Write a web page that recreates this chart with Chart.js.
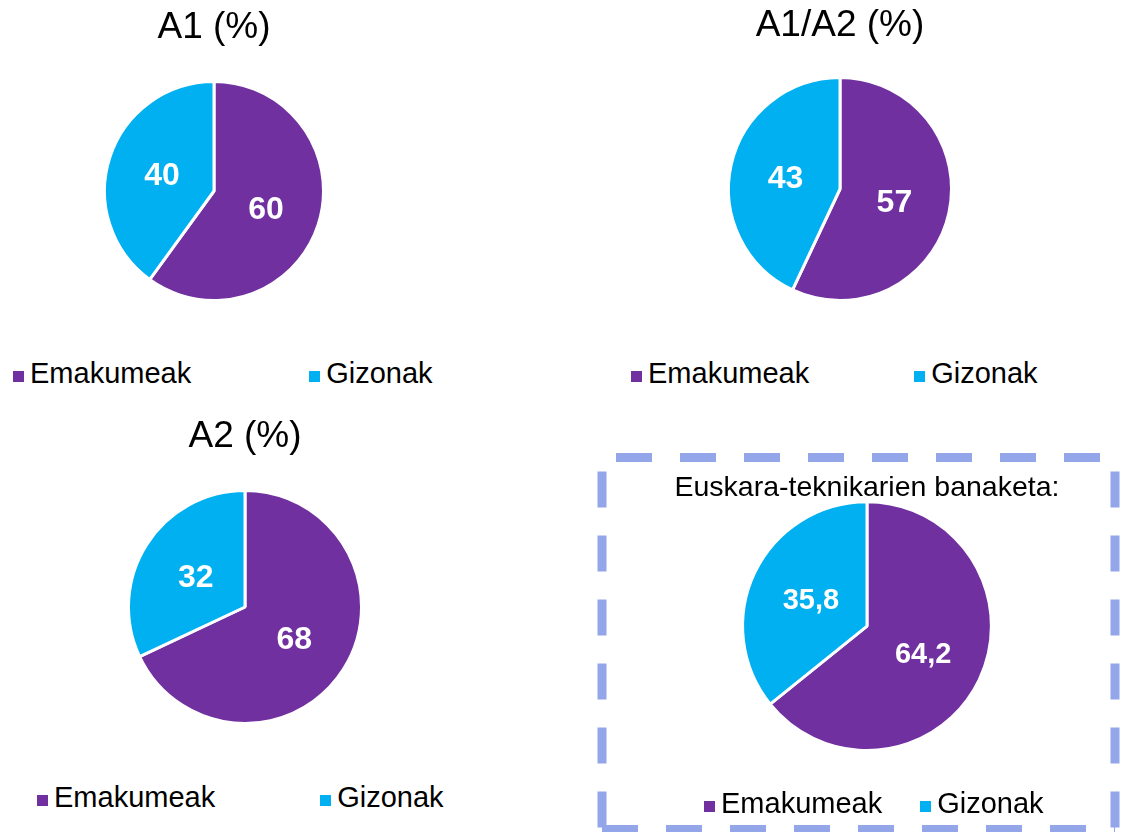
<!DOCTYPE html>
<html>
<head>
<meta charset="utf-8">
<title>Emakumeak eta gizonak</title>
<script src="https://cdn.jsdelivr.net/npm/chart.js@4.4.1/dist/chart.umd.min.js"></script>
<style>
  html, body { margin: 0; padding: 0; background: #fff; }
  body { width: 1126px; height: 832px; position: relative; overflow: hidden; font-family: Arial, "Liberation Sans", sans-serif; }
  .panel { position: absolute; }
  .legend { position: absolute; display: flex; font-size: 29px; line-height: 34px; color: #000; white-space: nowrap; }
  .legend .item { display: flex; align-items: flex-start; }
  .legend .sw { width: 11px; height: 11px; margin: 15px 6px 0 0; }
</style>
</head>
<body>
<div class="panel" id="p1"><canvas id="c1"></canvas></div>
<div class="panel" id="p2"><canvas id="c2"></canvas></div>
<div class="panel" id="p3"><canvas id="c3"></canvas></div>
<div class="panel" id="p4"><canvas id="c4"></canvas></div>
<div class="legend" id="l1"></div>
<div class="legend" id="l2"></div>
<div class="legend" id="l3"></div>
<div class="legend" id="l4"></div>
<script>
// data
const categories = ["Emakumeak", "Gizonak"];
const a1Values = [60, 40];
const a1a2Values = [57, 43];
const a2Values = [68, 32];
const teknikariValues = [64.2, 35.8];
const chartTitles = ["A1 (%)", "A1/A2 (%)", "A2 (%)", "Euskara-teknikarien banaketa:"];

const PURPLE = "#7030A0";
const CYAN = "#00B0F0";
const FONT = 'Arial, "Liberation Sans", sans-serif';

Chart.defaults.font.family = FONT;
Chart.defaults.color = "#000";

const fmt = v => String(v).replace(".", ",");

// white value labels in the middle of each slice
const sliceLabels = {
  id: "sliceLabels",
  afterDatasetsDraw(chart, args, opts) {
    const { ctx } = chart;
    const ds = chart.data.datasets[0];
    ctx.save();
    ctx.font = `bold ${opts.size}px ${FONT}`;
    ctx.fillStyle = "#fff";
    ctx.textAlign = "center";
    ctx.textBaseline = "middle";
    chart.getDatasetMeta(0).data.forEach((arc, i) => {
      const p = arc.getCenterPoint();
      ctx.fillText(fmt(ds.data[i]), p.x, p.y + 2);
    });
    ctx.restore();
  }
};

// dashed frame round the last chart
const dashedFrame = {
  id: "dashedFrame",
  beforeDraw(chart, args, o) {
    const { ctx } = chart;
    const [l, t, r, b] = o.rect;
    ctx.save();
    ctx.strokeStyle = o.color;
    ctx.lineWidth = o.width;
    ctx.setLineDash(o.dash);
    const side = (x1, y1, x2, y2, off) => {
      ctx.lineDashOffset = off;
      ctx.beginPath();
      ctx.moveTo(x1, y1);
      ctx.lineTo(x2, y2);
      ctx.stroke();
    };
    side(l, t, r, t, 50);
    side(l, t, l, b, 50);
    side(r, t, r, b, 50);
    side(l, b, r, b, 0);
    ctx.restore();
  }
};

function place(el, left, top, w, h) {
  el.style.left = left + "px";
  el.style.top = top + "px";
  if (w) el.style.width = w + "px";
  if (h) el.style.height = h + "px";
}

function makePie(n, values, title, cfg) {
  place(document.getElementById("p" + n), cfg.left, cfg.top, cfg.w, cfg.h);
  const chart = new Chart(document.getElementById("c" + n), {
    type: "pie",
    data: {
      labels: categories,
      datasets: [{
        data: values,
        backgroundColor: [PURPLE, CYAN],
        borderColor: "#fff",
        borderWidth: 3,
        hoverOffset: 0
      }]
    },
    options: {
      responsive: true,
      maintainAspectRatio: false,
      animation: false,
      layout: { padding: cfg.padding || 0 },
      plugins: {
        legend: { display: false },
        tooltip: { enabled: false },
        title: {
          display: true,
          text: title,
          color: "#000",
          font: { size: cfg.titleSize, weight: "normal", lineHeight: cfg.titleLine || 1.2 },
          padding: { top: cfg.pt, bottom: cfg.pb }
        },
        sliceLabels: { size: cfg.labelSize },
        dashedFrame: cfg.frame || {}
      }
    },
    plugins: cfg.frame ? [dashedFrame, sliceLabels] : [sliceLabels]
  });

  // html legend from the chart's own legend items
  const lg = document.getElementById("l" + n);
  place(lg, cfg.legLeft, cfg.legTop);
  lg.style.gap = cfg.legGap + "px";
  const items = chart.options.plugins.legend.labels.generateLabels(chart);
  lg.innerHTML = items.map(it =>
    `<span class="item"><span class="sw" style="background:${it.fillStyle}"></span><span>${it.text}</span></span>`
  ).join("");
  return chart;
}

makePie(1, a1Values, chartTitles[0], {
  left: 4, top: 0, w: 420, h: 302, titleSize: 37, pt: 6, pb: 29.6, labelSize: 32,
  legLeft: 13, legTop: 356, legGap: 118
});
makePie(2, a1a2Values, chartTitles[1], {
  left: 630, top: 0, w: 420, h: 302, titleSize: 37, pt: 4, pb: 27.6, labelSize: 32,
  legLeft: 631, legTop: 356, legGap: 105
});
makePie(3, a2Values, chartTitles[2], {
  left: 35, top: 400, w: 420, h: 325, titleSize: 37, pt: 15, pb: 29.6, labelSize: 32,
  legLeft: 37, legTop: 780, legGap: 105
});
makePie(4, teknikariValues, chartTitles[3], {
  left: 590, top: 448, w: 536, h: 384, titleSize: 28.5, titleLine: 0.85, pt: 28, pb: 0, labelSize: 29,
  padding: { left: 18, bottom: 80 },
  legLeft: 704, legTop: 786, legGap: 38,
  frame: { rect: [12, 9.5, 525, 381.5], color: "#93A6EA", width: 9, dash: [36, 28] }
});
</script>
</body>
</html>
